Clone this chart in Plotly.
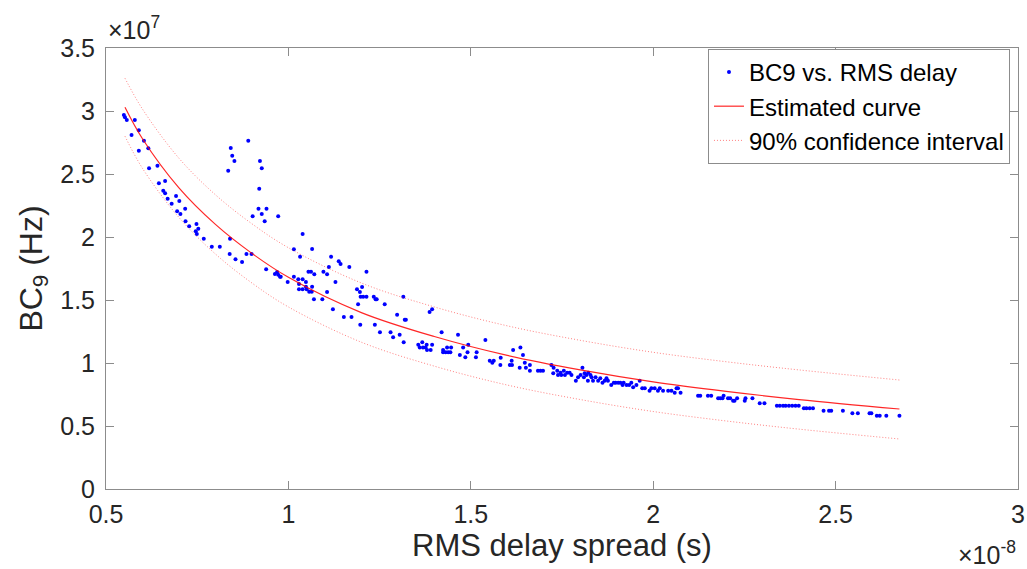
import plotly.graph_objects as go

# Scatter data: RMS delay spread (x 1e-8 s) vs BC9 (x 1e7 Hz)
rms_delay = [
    0.549, 0.552, 0.557, 0.579, 0.570, 0.590, 0.604, 0.590, 0.616, 0.618,
    0.641, 0.645, 0.662, 0.657, 0.662, 0.669, 0.680, 0.692, 0.701, 0.717,
    0.695, 0.704, 0.718, 0.728, 0.748, 0.753, 0.746, 0.749, 0.768, 0.790,
    0.812, 0.840, 0.839, 0.855, 0.873, 0.885, 0.899, 0.835, 0.842, 0.846,
    0.852, 0.890, 0.922, 0.927, 0.920, 0.918, 0.940, 0.927, 0.902, 0.935,
    0.972, 1.015, 0.939, 0.963, 0.969, 0.972, 0.977, 0.979, 1.015,
    0.998, 1.027, 1.039, 1.029, 1.048, 1.029, 1.039, 1.048, 1.050, 1.057,
    1.064, 1.065, 1.071, 1.070, 1.055, 1.062, 1.039, 1.032, 1.065, 1.093,
    1.096, 1.106, 1.111, 1.117, 1.106, 1.122, 1.129, 1.138, 1.143, 1.167,
    1.152, 1.173, 1.188, 1.191, 1.196, 1.202, 1.198, 1.205, 1.214, 1.214,
    1.197, 1.234, 1.239, 1.242, 1.237, 1.251, 1.264, 1.280, 1.287, 1.298,
    1.305, 1.319, 1.322, 1.316, 1.315, 1.356, 1.360, 1.367, 1.369, 1.376,
    1.379, 1.380, 1.390, 1.394, 1.387, 1.394, 1.420, 1.424, 1.424, 1.431,
    1.435, 1.438, 1.444, 1.446, 1.465, 1.470, 1.479, 1.485, 1.493, 1.491,
    1.516, 1.514,
    1.540, 1.552, 1.559, 1.563, 1.582, 1.581, 1.607, 1.612, 1.616, 1.613,
    1.636, 1.634, 1.643, 1.648, 1.651, 1.662, 1.662, 1.684, 1.691, 1.698,
    1.721, 1.727, 1.726, 1.737, 1.739, 1.746, 1.748, 1.755, 1.758, 1.764,
    1.771, 1.776, 1.788, 1.794, 1.801, 1.806, 1.810, 1.812, 1.817, 1.822,
    1.821, 1.828, 1.831, 1.835, 1.842, 1.849, 1.855, 1.861, 1.867, 1.872,
    1.876, 1.885, 1.892, 1.897, 1.904, 1.910, 1.916, 1.919, 1.927, 1.934,
    1.940, 1.945, 1.954, 1.963, 1.970, 1.977, 1.990, 1.995, 2.004, 2.013,
    2.018, 2.027, 2.041, 2.050, 2.059, 2.064, 2.068, 2.075,
    2.123, 2.129, 2.150, 2.159, 2.178, 2.184, 2.190, 2.193, 2.205, 2.211,
    2.219, 2.223, 2.230, 2.251, 2.253, 2.272, 2.292, 2.305, 2.339, 2.347,
    2.356, 2.363, 2.372, 2.381, 2.390, 2.399, 2.413, 2.420, 2.429, 2.438,
    2.467, 2.482, 2.488, 2.520, 2.546, 2.561, 2.593, 2.598, 2.613, 2.621,
    2.639, 2.675,
]
bc9 = [
    2.968, 2.950, 2.929, 2.929, 2.810, 2.847, 2.764, 2.685, 2.704, 2.545,
    2.566, 2.426, 2.444, 2.367, 2.347, 2.304, 2.264, 2.325, 2.286, 2.225,
    2.204, 2.183, 2.125, 2.085, 2.103, 2.066, 2.045, 2.024, 1.987, 1.923,
    1.923, 1.987, 1.865, 1.823, 1.802, 1.865, 1.865, 2.526, 2.706, 2.645,
    2.603, 2.764, 2.603, 2.545, 2.383, 2.225, 2.225, 2.183, 2.164, 2.125,
    2.164, 1.902, 1.744, 1.706, 1.722, 1.701, 1.685, 1.685, 1.685,
    1.643, 1.664, 1.664, 1.627, 1.643, 1.585, 1.585, 1.606, 1.585, 1.566,
    1.566, 1.606, 1.704, 1.506, 1.725, 1.725, 2.024, 1.844, 1.905, 1.506,
    1.725, 1.704, 1.762, 1.844, 1.563, 1.426, 1.643, 1.807, 1.786, 1.762,
    1.365, 1.365, 1.585, 1.466, 1.563, 1.603, 1.526, 1.526, 1.526, 1.725,
    1.304, 1.526, 1.506, 1.506, 1.304, 1.244, 1.466, 1.244, 1.204, 1.383,
    1.225, 1.344, 1.344, 1.164, 1.526, 1.145, 1.124, 1.164, 1.124, 1.124,
    1.145, 1.103, 1.103, 1.145, 1.405, 1.426, 1.244, 1.103, 1.085, 1.085,
    1.124, 1.085, 1.085, 1.124, 1.225, 1.063, 1.124, 1.045, 1.145, 1.085,
    1.085, 1.045,
    1.183, 1.018, 1.002, 1.018, 1.042, 0.984, 0.984, 1.018, 1.103, 0.984,
    1.124, 0.963, 1.063, 1.002, 0.963, 0.984, 0.939, 0.939, 0.939, 0.939,
    0.984, 0.963, 0.918, 0.939, 0.905, 0.923, 0.905, 0.939, 0.905, 0.923,
    0.923, 0.905, 0.860, 0.886, 0.905, 0.963, 0.886, 0.918, 0.905, 0.923,
    0.860, 0.905, 0.886, 0.860, 0.886, 0.860, 0.878, 0.844, 0.860, 0.878,
    0.860, 0.825, 0.844, 0.844, 0.844, 0.844, 0.825, 0.844, 0.825, 0.825,
    0.844, 0.807, 0.825, 0.860, 0.799, 0.799, 0.780, 0.799, 0.799, 0.780,
    0.799, 0.780, 0.780, 0.780, 0.764, 0.799, 0.799, 0.764,
    0.741, 0.741, 0.741, 0.741, 0.720, 0.720, 0.720, 0.741, 0.720, 0.720,
    0.701, 0.701, 0.720, 0.701, 0.720, 0.720, 0.680, 0.680, 0.661, 0.661,
    0.661, 0.661, 0.661, 0.661, 0.661, 0.661, 0.640, 0.640, 0.640, 0.640,
    0.621, 0.621, 0.621, 0.621, 0.601, 0.601, 0.601, 0.601, 0.582, 0.582,
    0.582, 0.582,
]

# Fitted curve and 90% confidence bounds
fit_x = [0.552, 0.6, 0.7, 0.8, 0.9, 1.0, 1.2, 1.4, 1.6, 1.8, 2.0, 2.2, 2.4, 2.675]
fit_y = [3.03, 2.78, 2.39, 2.10, 1.87, 1.68, 1.40, 1.21, 1.06, 0.945, 0.85, 0.775, 0.71, 0.635]
ci_upper = [3.26, 3.015, 2.625, 2.335, 2.105, 1.915, 1.635, 1.445, 1.295, 1.18, 1.085, 1.01, 0.945, 0.865]
ci_lower = [2.80, 2.545, 2.155, 1.865, 1.635, 1.445, 1.165, 0.975, 0.825, 0.71, 0.615, 0.54, 0.475, 0.397]

x_ticks = [0.5, 1, 1.5, 2, 2.5, 3]
x_tick_labels = ["0.5", "1", "1.5", "2", "2.5", "3"]
y_ticks = [0, 0.5, 1, 1.5, 2, 2.5, 3, 3.5]
y_tick_labels = ["0", "0.5", "1", "1.5", "2", "2.5", "3", "3.5"]

FONT = "Liberation Sans, Arial, Helvetica, sans-serif"
TXT = "#262626"
AX = "#8c8c8c"

fig = go.Figure()
fig.add_trace(go.Scatter(
    x=rms_delay, y=bc9, mode="markers", name="BC9 vs. RMS delay",
    marker=dict(color="#0000ff", size=4, line=dict(width=0)),
))
fig.add_trace(go.Scatter(
    x=fit_x, y=fit_y, mode="lines", name="Estimated curve",
    line=dict(color="rgba(255,0,0,0.85)", width=1.2, shape="spline"),
))
fig.add_trace(go.Scatter(
    x=fit_x, y=ci_upper, mode="lines", name="90% confidence interval",
    line=dict(color="rgba(255,0,0,0.5)", width=1, dash="1px,2px", shape="spline"),
))
fig.add_trace(go.Scatter(
    x=fit_x, y=ci_lower, mode="lines", name="90% confidence interval",
    showlegend=False,
    line=dict(color="rgba(255,0,0,0.5)", width=1, dash="1px,2px", shape="spline"),
))

axis_common = dict(
    showline=True, linecolor=AX, linewidth=1, mirror="ticks",
    ticks="inside", ticklen=8, tickcolor=AX, tickwidth=1,
    showgrid=False, zeroline=False,
    tickfont=dict(family=FONT, size=25, color=TXT),
)

fig.update_layout(
    width=1027, height=569,
    margin=dict(l=106, r=9, t=48, b=80),
    paper_bgcolor="white", plot_bgcolor="white",
    font=dict(family=FONT, color=TXT),
    xaxis=dict(
        range=[0.5, 3], tickvals=x_ticks, ticktext=x_tick_labels,
        title=dict(text="RMS delay spread (s)", font=dict(size=31, color=TXT), standoff=2),
        automargin=False, ticklabelstandoff=3,
        **axis_common,
    ),
    yaxis=dict(
        range=[0, 3.5], tickvals=y_ticks, ticktext=y_tick_labels,
        title=dict(text="BC<sub>9</sub> (Hz)", font=dict(size=32, color=TXT), standoff=8),
        automargin=False, ticklabelstandoff=5,
        **axis_common,
    ),
    legend=dict(
        x=0.9912, y=0.998, xanchor="right", yanchor="top",
        bgcolor="white", bordercolor=AX, borderwidth=1,
        font=dict(family=FONT, size=24, color="black"),
        tracegroupgap=0,
    ),
    showlegend=True,
)

fig.add_annotation(
    text="×10<sup>7</sup>", xref="paper", yref="paper",
    x=0.0, y=1.0, xanchor="left", yanchor="bottom", yshift=2, showarrow=False,
    font=dict(family=FONT, size=25, color=TXT),
)
fig.add_annotation(
    text="×10<sup>-8</sup>", xref="paper", yref="paper",
    x=1.0, y=0.0, xanchor="right", yanchor="top", yshift=-46, showarrow=False,
    font=dict(family=FONT, size=25, color=TXT),
)

fig.write_html(
    "out.html",
    config={"displayModeBar": False},
    post_script="document.body.style.margin='0';",
)
